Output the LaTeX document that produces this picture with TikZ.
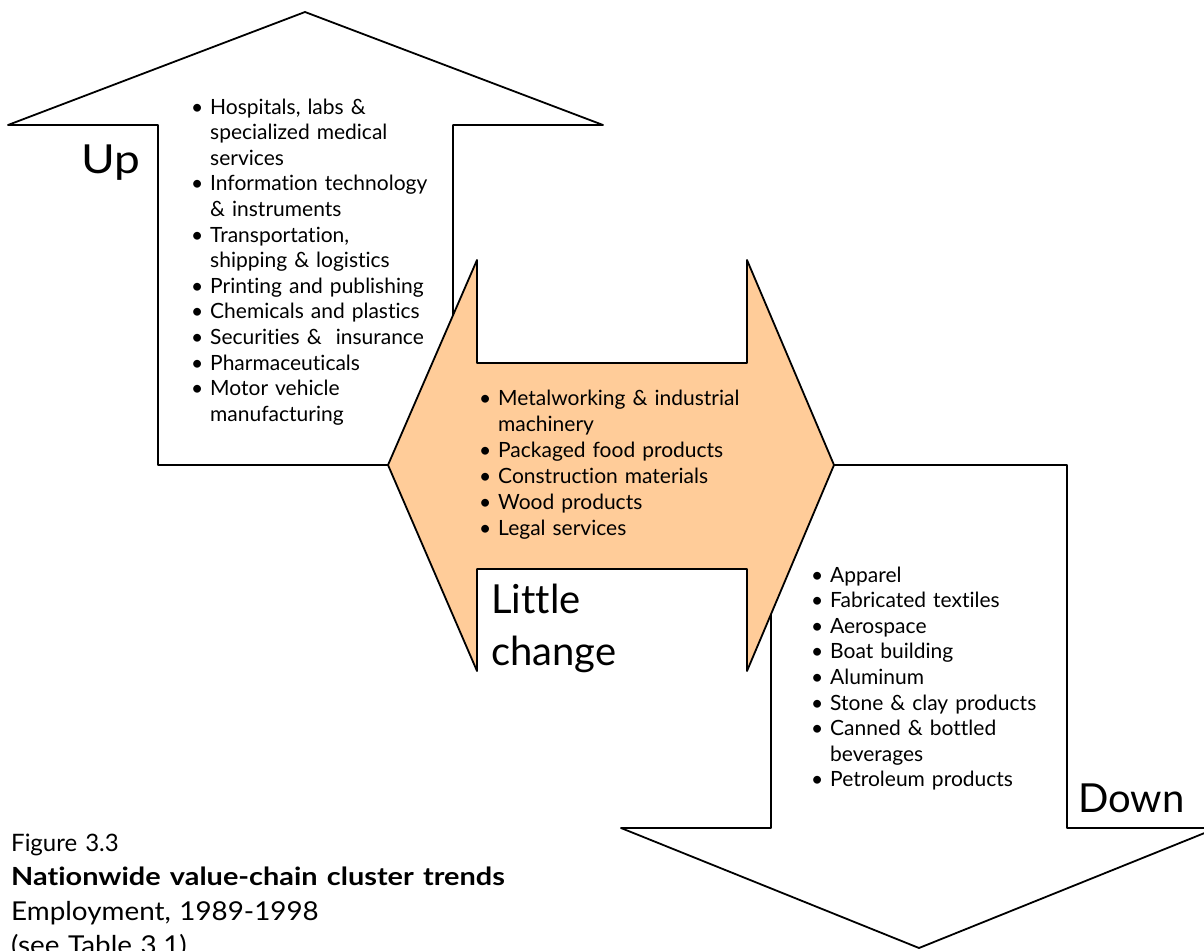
\documentclass[tikz,border=0pt]{standalone}
\usepackage{fontspec}
\setmainfont{Lato}[Ligatures={NoCommon,NoDiscretionary,NoContextual}]
\definecolor{orangefill}{HTML}{FFCC99}
\newcommand{\lbul}{\makebox[19pt][l]{\textbullet}}
\newcommand{\lind}{\hspace*{19pt}}
\begin{document}
\begin{tikzpicture}[x=1pt,y=-1pt, line join=round,
  outline/.style={draw=black, line width=1.8pt},
  lst/.style={anchor=base west, inner sep=0pt, align=left, text width=320pt,
    font=\fontsize{21}{25.6}\selectfont},
  big/.style={anchor=base west, inner sep=0pt, align=left, text width=200pt,
    font=\fontsize{40}{52}\selectfont},
  capt/.style={anchor=base west, inner sep=0pt, align=left, text width=700pt,
    font=\fontsize{24}{34.5}\selectfont}]
\useasboundingbox (0,0) rectangle (1204,950);
\clip (0,0) rectangle (1204,950);
% Up arrow
\draw[outline, fill=white] (305,12) -- (603,125) -- (453,125) -- (453,465)
  -- (158,465) -- (158,125) -- (8,125) -- cycle;
% Down arrow
\draw[outline, fill=white] (771,465) -- (1067,465) -- (1067,828) -- (1217,828)
  -- (919,948) -- (621,828) -- (771,828) -- cycle;
% Little change double arrow
\draw[outline, fill=orangefill] (388,465) -- (477,260) -- (477,363) -- (747,363)
  -- (747,260) -- (834,465) -- (747,671) -- (747,569) -- (477,569) -- (477,671) -- cycle;
% Labels
\node[big] (up) at (81,173) {\scalebox{1.15}[1]{Up}};
\node[big] (little) at (491,613) {Little\\change};
\node[big] (down) at (1078,812) {Down};
% Lists
\node[lst] (uplist) at (191,114) {%
\lbul Hospitals, labs \&\\
\lind specialized medical\\
\lind services\\
\lbul Information technology\\
\lind \& instruments\\
\lbul Transportation,\\
\lind shipping \& logistics\\
\lbul Printing and publishing\\
\lbul Chemicals and plastics\\
\lbul Securities \&~ insurance\\
\lbul Pharmaceuticals\\
\lbul Motor vehicle\\
\lind manufacturing};
\node[lst, font=\fontsize{21}{26}\selectfont] (midlist) at (479,405) {%
\lbul Metalworking \& industrial\\
\lind machinery\\
\lbul Packaged food products\\
\lbul Construction materials\\
\lbul Wood products\\
\lbul Legal services};
\node[lst] (downlist) at (811,582) {%
\lbul Apparel\\
\lbul Fabricated textiles\\
\lbul Aerospace\\
\lbul Boat building\\
\lbul Aluminum\\
\lbul Stone \& clay products\\
\lbul Canned \& bottled\\
\lind beverages\\
\lbul Petroleum products};
% Caption
\node[capt] (caption) at (11,851) {Figure 3.3\\
{\fontsize{25}{34.5}\selectfont\scalebox{1.155}[1]{\textbf{Nationwide value-chain cluster trends}}}\\
{\fontsize{26}{34.5}\selectfont\scalebox{1.07}[1]{Employment, 1989-1998}}\\
{\fontsize{26}{34.5}\selectfont\scalebox{1.07}[1]{(see Table 3.1)}}};
\end{tikzpicture}
\end{document}
